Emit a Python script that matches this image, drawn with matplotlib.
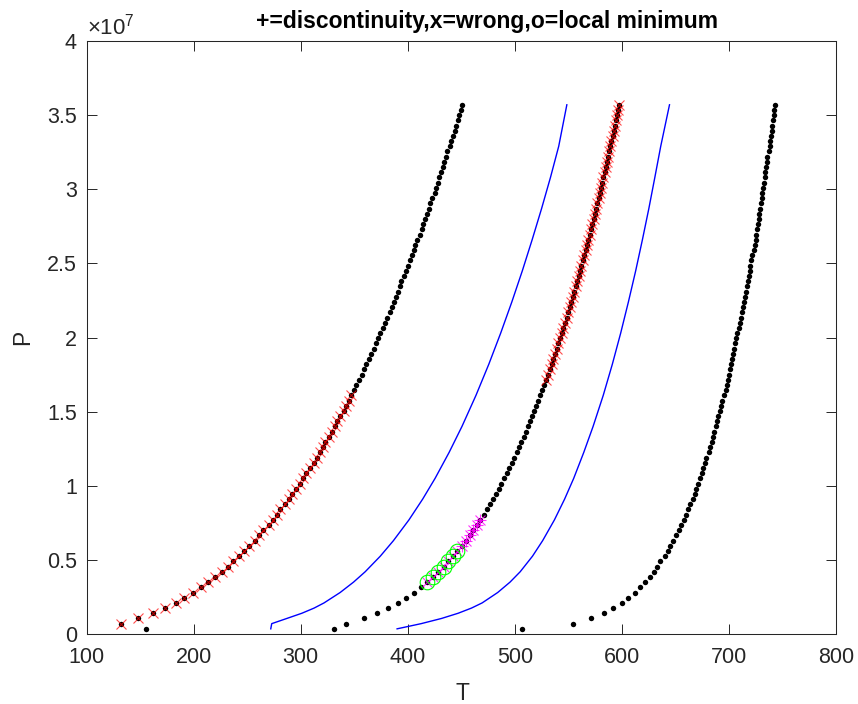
import matplotlib
matplotlib.use("Agg")
import matplotlib.pyplot as plt

plt.rcParams['font.family'] = ['Liberation Sans', 'DejaVu Sans']
plt.rcParams['mathtext.fontset'] = 'custom'
plt.rcParams['mathtext.rm'] = 'Liberation Sans'
plt.rcParams['mathtext.it'] = 'Liberation Sans:italic'

# ---------------- data (P in units of 1e6 Pa, T in K) ----------------
P_grid = [0.35, 0.70, 1.05, 1.40, 1.75, 2.10, 2.45, 2.80, 3.15, 3.50,
          3.85, 4.20, 4.55, 4.90, 5.25, 5.60, 5.95, 6.30, 6.65, 7.00,
          7.35, 7.70, 8.05, 8.40, 8.75, 9.10, 9.45, 9.80, 10.15, 10.50,
          10.85, 11.20, 11.55, 11.90, 12.25, 12.60, 12.95, 13.30, 13.65, 14.00,
          14.35, 14.70, 15.05, 15.40, 15.75, 16.10, 16.45, 16.80, 17.15, 17.50,
          17.85, 18.20, 18.55, 18.90, 19.25, 19.60, 19.95, 20.30, 20.65, 21.00,
          21.35, 21.70, 22.05, 22.40, 22.75, 23.10, 23.45, 23.80, 24.15, 24.50,
          24.85, 25.20, 25.55, 25.90, 26.25, 26.60, 26.95, 27.30, 27.65, 28.00,
          28.35, 28.70, 29.05, 29.40, 29.75, 30.10, 30.45, 30.80, 31.15, 31.50,
          31.85, 32.20, 32.55, 32.90, 33.25, 33.60, 33.95, 34.30, 34.65, 35.00,
          35.35, 35.70]

T_curve_A = [155, 132, 148, 162, 173, 183, 191, 199, 207, 213,
             220, 226, 232, 237, 242, 247, 252, 257, 261, 265,
             270, 274, 278, 281, 285, 289, 292, 296, 299, 302,
             305, 309, 312, 315, 318, 321, 323, 326, 329, 332,
             334, 337, 340, 342, 345, 347, 350, 352, 354, 357,
             359, 361, 364, 366, 368, 370, 372, 374, 377, 379,
             381, 383, 385, 387, 389, 391, 393, 394, 396, 398,
             400, 402, 404, 406, 407, 409, 411, 413, 414, 416,
             418, 420, 421, 423, 425, 426, 428, 429, 431, 433,
             434, 436, 437, 439, 440, 442, 444, 445, 447, 448,
             450, 451]

T_curve_B = [331.1, 342.5, 358.7, 371.3, 381.7, 390.7, 398.6, 405.6, 412.1, 418.0,
             423.5, 428.6, 433.5, 438.0, 442.3, 446.4, 450.4, 454.1, 457.7, 461.2,
             464.5, 467.7, 470.8, 473.8, 476.7, 479.5, 482.3, 485.0, 487.5, 490.1,
             492.5, 495.0, 497.3, 499.6, 501.9, 504.1, 506.2, 508.3, 510.4, 512.5,
             514.5, 516.4, 518.3, 520.2, 522.1, 523.9, 525.7, 527.5, 529.2, 531.0,
             532.7, 534.3, 536.0, 537.6, 539.2, 540.8, 542.3, 543.8, 545.4, 546.9,
             548.3, 549.8, 551.2, 552.7, 554.1, 555.5, 556.8, 558.2, 559.5, 560.9,
             562.2, 563.5, 564.8, 566.1, 567.3, 568.6, 569.8, 571.0, 572.3, 573.5,
             574.7, 575.8, 577.0, 578.2, 579.3, 580.5, 581.6, 582.7, 583.8, 584.9,
             586.0, 587.1, 588.2, 589.2, 590.3, 591.3, 592.4, 593.4, 594.4, 595.5,
             596.5, 597.5]

T_curve_D = [507, 554, 571, 583, 592, 600, 606, 612, 617, 622,
             626, 630, 633, 636, 640, 643, 645, 648, 651, 653,
             655, 658, 660, 662, 664, 666, 668, 669, 671, 673,
             675, 676, 678, 679, 681, 682, 684, 685, 686, 688,
             689, 690, 692, 693, 694, 695, 697, 698, 699, 700,
             701, 702, 703, 704, 705, 706, 707, 708, 709, 710,
             711, 712, 713, 714, 715, 716, 717, 718, 719, 720,
             720, 721, 722, 723, 724, 725, 725, 726, 727, 728,
             728, 729, 730, 731, 731, 732, 733, 734, 734, 735,
             736, 736, 737, 738, 738, 739, 740, 740, 741, 742,
             742, 743]

# flagged points (indices into P_grid)
wrong_A = list(range(1, 46))          # red x on curve A
wrong_B = list(range(48, 102))        # red x on curve B
wrong_B_low = list(range(9, 22))      # magenta x on curve B
discont_B = list(range(16, 22))       # magenta + on curve B
localmin_B = list(range(9, 16))       # green o on curve B

# blue reference lines
P_line = [0.35, 0.7, 1.05, 1.4, 1.75, 2.1, 2.8, 3.5, 4.2, 5.25, 6.3, 7.7, 9.1,
          10.5, 12.25, 14, 16.1, 18.2, 20.3, 22.4, 24.5, 26.6, 28.7, 30.8, 32.9, 35.7]
T_line_1 = [272.0, 272.9, 287.0, 301.0, 312.5, 321.8, 336.8, 349.3, 360.2, 374.3,
            386.6, 401.1, 413.9, 425.5, 438.6, 450.6, 463.7, 475.7, 486.8, 497.2,
            507.0, 516.2, 525.0, 533.3, 541.0, 548.6]
T_line_2 = [390.0, 412.5, 431.5, 447.0, 459.5, 469.5, 484.0, 495.5, 505.0, 516.5,
            526.0, 537.0, 546.5, 555.0, 564.4, 573.1, 582.6, 591.1, 598.9, 606.1,
            612.9, 619.2, 625.2, 630.8, 636.3, 644.5]

title_text = '+=discontinuity,x=wrong,o=local minimum'
x_ticks = [100, 200, 300, 400, 500, 600, 700, 800]
y_ticks = [0, 0.5e7, 1e7, 1.5e7, 2e7, 2.5e7, 3e7, 3.5e7, 4e7]

# ---------------- drawing ----------------
grey = (0.15, 0.15, 0.15)
fig = plt.figure(figsize=(8.58, 7.04), dpi=100)
ax = fig.add_axes([0.1010, 0.0994, 0.8733, 0.8423])

Pa = [p * 1e6 for p in P_grid]
PaL = [p * 1e6 for p in P_line]

ax.plot(T_line_1, PaL, color=(0, 0, 1), lw=1.0, zorder=2)
ax.plot(T_line_2, PaL, color=(0, 0, 1), lw=1.0, zorder=2)

for Tc in (T_curve_A, T_curve_B, T_curve_D):
    ax.plot(Tc, Pa, linestyle='none', marker='o', ms=3.9, mew=0,
            color='black', zorder=3)

def sel(T, idx):
    return [T[i] for i in idx], [Pa[i] for i in idx]

xa, ya = sel(T_curve_A, wrong_A)
ax.plot(xa, ya, linestyle='none', marker='x', ms=7.5, mew=0.8,
        color=(1, 0, 0), alpha=0.7, zorder=4)
xb, yb = sel(T_curve_B, wrong_B)
ax.plot(xb, yb, linestyle='none', marker='x', ms=7.5, mew=0.8,
        color=(1, 0, 0), alpha=0.7, zorder=4)
xm, ym = sel(T_curve_B, wrong_B_low)
ax.plot(xm, ym, linestyle='none', marker='x', ms=7, mew=0.8,
        color=(1, 0, 1), alpha=0.8, zorder=4)
xp, yp = sel(T_curve_B, discont_B)
ax.plot(xp, yp, linestyle='none', marker='+', ms=9, mew=0.8,
        color=(1, 0, 1), alpha=0.8, zorder=4)
xg, yg = sel(T_curve_B, localmin_B)
ax.plot(xg, yg, linestyle='none', marker='o', ms=10.5, mew=0.8,
        mfc='none', mec=(0, 1, 0), zorder=5)

ax.set_xlim(100, 800)
ax.set_ylim(0, 4e7)
ax.set_xticks(x_ticks)
ax.set_yticks(y_ticks)
ax.set_xticklabels([str(v) for v in x_ticks])
ax.set_yticklabels(['%g' % (v / 1e7) for v in y_ticks])

ax.tick_params(axis='both', which='both', direction='in', length=7, width=0.7,
               colors=grey, labelsize=15.5, top=True, right=True)
ax.tick_params(axis='x', pad=9.5)
ax.tick_params(axis='y', pad=7.0)
for s in ax.spines.values():
    s.set_color(grey)
    s.set_linewidth(0.75)

ax.text(0.0, 1.011, r'$\times10^{7}$', transform=ax.transAxes,
        ha='left', va='baseline', fontsize=16, color=grey)

fig.text(487.0 / 858, 1 - 28 / 704, title_text, ha='center', va='baseline',
         fontsize=16.5, fontweight='bold', color='black')
fig.text(462.0 / 858, 1 - 693 / 704, 'T', ha='center', va='center',
         fontsize=16.5, color=grey)
fig.text(22.5 / 858, 1 - 337.5 / 704, 'P', ha='center', va='center',
         rotation=90, fontsize=16.5, color=grey)

fig.savefig('out.png', dpi=100)
